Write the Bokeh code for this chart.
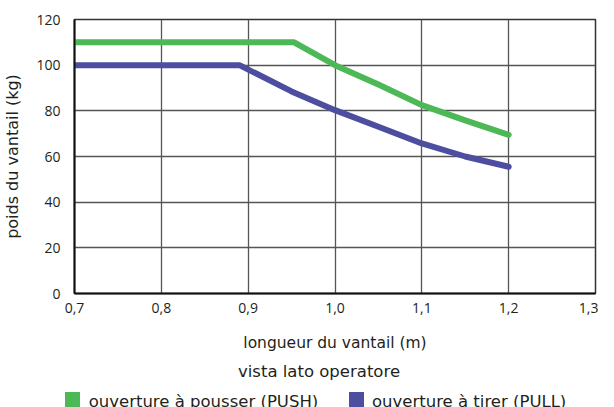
from bokeh.plotting import figure
from bokeh.layouts import column
from bokeh.models import Range1d, FixedTicker, Div
from bokeh.embed import file_html
from bokeh.resources import INLINE

# data
x_push = [0.7, 0.953, 1.0, 1.05, 1.1, 1.15, 1.2]
y_push = [110, 110, 100, 91.5, 82.5, 75.8, 69.5]
x_pull = [0.7, 0.89, 0.95, 1.0, 1.05, 1.1, 1.15, 1.2]
y_pull = [100, 100, 88.5, 80.3, 73.0, 65.7, 60.0, 55.5]
x_ticks = [0.7, 0.8, 0.9, 1.0, 1.1, 1.2, 1.3]
x_tick_labels = ["0,7", "0,8", "0,9", "1,0", "1,1", "1,2", "1,3"]
y_ticks = [0, 20, 40, 60, 80, 100, 120]
series_names = ["ouverture à pousser (PUSH)", "ouverture à tirer (PULL)"]
series_colors = ["#4cb856", "#4d4e9f"]
x_title = "longueur du vantail (m)"
y_title = "poids du vantail (kg)"
sub_title = "vista lato operatore"

TICK_FONT = "Open Sans"
TITLE_FONT = "DejaVu Sans"
TXT = "#231f20"
W = 598

p = figure(width=W, height=360, output_backend="svg", toolbar_location=None,
           x_range=Range1d(0.7, 1.3), y_range=Range1d(0, 120),
           min_border_left=65, min_border_right=3, min_border_top=19,
           min_border_bottom=67)

p.line(x_push, y_push, line_color=series_colors[0], line_width=6,
       line_cap="round", line_join="round")
p.line(x_pull, y_pull, line_color=series_colors[1], line_width=6,
       line_cap="round", line_join="round")

p.xaxis.ticker = FixedTicker(ticks=x_ticks)
p.xaxis.major_label_overrides = {t: l for t, l in zip(x_ticks, x_tick_labels)}
p.yaxis.ticker = FixedTicker(ticks=y_ticks)

for ax in (p.xaxis, p.yaxis):
    ax.major_tick_line_color = None
    ax.minor_tick_line_color = None
    ax.axis_line_color = "#111111"
    ax.axis_line_width = 2
    ax.major_label_text_font = TICK_FONT
    ax.major_label_text_font_size = "14px"
    ax.major_label_text_color = TXT
    ax.axis_label_text_font = TITLE_FONT
    ax.axis_label_text_font_style = "normal"
    ax.axis_label_text_color = TXT

p.xaxis.axis_label = x_title
p.yaxis.axis_label = y_title
p.xaxis.axis_label_text_font_size = "15.5px"
p.yaxis.axis_label_text_font_size = "16px"
p.xaxis.major_label_standoff = 3
p.xaxis.axis_label_standoff = 18
p.yaxis.major_label_standoff = 8
p.yaxis.axis_label_standoff = 11

p.xgrid.grid_line_color = "#555555"
p.ygrid.grid_line_color = "#555555"
p.xgrid.grid_line_width = 1.3
p.ygrid.grid_line_width = 1.3
p.outline_line_color = "#333333"
p.outline_line_width = 1.5

# caption and legend strip under the chart
txt_style = f"position:absolute;font-family:'{TITLE_FONT}';font-size:16.5px;color:{TXT};white-space:nowrap;"
sw_left = [64.5, 348.7]
lbl_left = [88.7, 372]
parts = [f'<div style="{txt_style}left:238px;top:0px;">{sub_title}</div>']
for name, col, sl, ll in zip(series_names, series_colors, sw_left, lbl_left):
    parts.append(f'<div style="position:absolute;left:{sl}px;top:32px;width:15px;height:15px;background:{col};"></div>')
    parts.append(f'<div style="{txt_style}left:{ll}px;top:29.7px;">{name}</div>')
html = ('<div style="position:relative;width:598px;height:47px;overflow:hidden;margin:0;padding:0;">'
        + "".join(parts) + "</div>")
strip = Div(text=html, width=W, height=47, styles={"margin": "0", "padding": "0"})

layout = column(p, strip, spacing=0)
open("out.html", "w").write(file_html(layout, INLINE))
